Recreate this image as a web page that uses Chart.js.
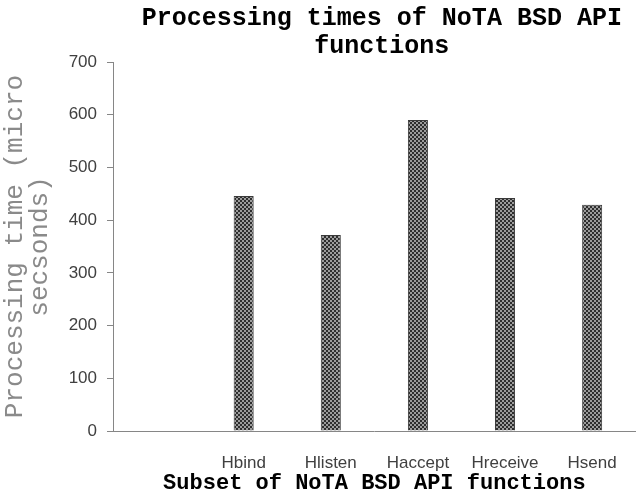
<!DOCTYPE html>
<html>
<head>
<meta charset="utf-8">
<script src="https://cdn.jsdelivr.net/npm/chart.js@4.4.0/dist/chart.umd.min.js"></script>
<style>
  html, body { margin: 0; padding: 0; background: #fff; }
  #wrap { width: 639px; height: 500px; }
</style>
</head>
<body>
<div id="wrap"><canvas id="myChart"></canvas></div>
<script>
// chart data
const categories = ['', 'Hbind', 'Hlisten', 'Haccept', 'Hreceive', 'Hsend'];
const times = [null, 446, 372, 590, 442, 429];
const yTicks = [0, 100, 200, 300, 400, 500, 600, 700];

// checker pattern for the bars
function make_pattern() {
    let c = document.createElement('canvas');
    c.width = 4;
    c.height = 4;
    let cx = c.getContext('2d');
    cx.fillStyle = '#9c9c9c';
    cx.fillRect(0, 0, 4, 4);
    cx.fillStyle = '#2e2e2e';
    cx.fillRect(0, 0, 2, 2);
    cx.fillRect(2, 2, 2, 2);
    return cx.createPattern(c, 'repeat');
}

const data = {
    labels: categories,
    datasets: [{
        label: 'Processing time',
        data: times,
        backgroundColor: make_pattern(),
        borderColor: '#3a3a3a',
        borderWidth: 1,
        barPercentage: 0.23,
        categoryPercentage: 1.0
    }]
};

const config = {
    type: 'bar',
    data: data,
    options: {
        responsive: true,
        maintainAspectRatio: false,
        animation: false,
        layout: { padding: { left: 0, right: 1, top: 0, bottom: 0 } },
        plugins: {
            legend: { display: false },
            tooltip: { enabled: false },
            title: {
                display: true,
                fullSize: false,
                // leading space nudges the centred title a bit right, like the original
                text: [' Processing times of NoTA BSD API', ' functions'],
                color: '#000',
                font: { family: "'Liberation Mono', 'Courier New', monospace", size: 25, weight: 'bold', lineHeight: 1.1 },
                padding: { top: 5, bottom: 2 }
            }
        },
        scales: {
            x: {
                grid: { display: false, drawTicks: false },
                border: { display: true, color: '#868686', width: 1 },
                ticks: {
                    color: '#404040',
                    padding: 22,
                    font: { family: "'Liberation Sans', Arial, sans-serif", size: 17 }
                },
                title: {
                    display: true,
                    text: 'Subset of NoTA BSD API functions',
                    color: '#000',
                    font: { family: "'Liberation Mono', 'Courier New', monospace", size: 22, weight: 'bold', lineHeight: 1 },
                    padding: { top: 0, bottom: 6 }
                },
                afterFit: function(scale) { scale.height = 69; }
            },
            y: {
                min: 0,
                max: 700,
                afterBuildTicks: function(scale) {
                    scale.ticks = yTicks.map(v => ({ value: v }));
                },
                grid: {
                    display: true,
                    drawOnChartArea: false,
                    drawTicks: true,
                    tickLength: 6,
                    color: '#868686'
                },
                border: { display: true, color: '#868686', width: 1 },
                ticks: {
                    color: '#404040',
                    padding: 10,
                    font: { family: "'Liberation Sans', Arial, sans-serif", size: 17 }
                },
                title: {
                    display: true,
                    text: ['Processing time (micro', 'secsonds)'],
                    color: '#8a8a8a',
                    font: { family: "'Liberation Mono', 'Courier New', monospace", size: 26, lineHeight: 0.96 },
                    padding: { top: 3, bottom: 0 }
                },
                afterFit: function(scale) { scale.width = 113; }
            }
        }
    }
};

const myChart = new Chart(document.getElementById('myChart'), config);
</script>
</body>
</html>
